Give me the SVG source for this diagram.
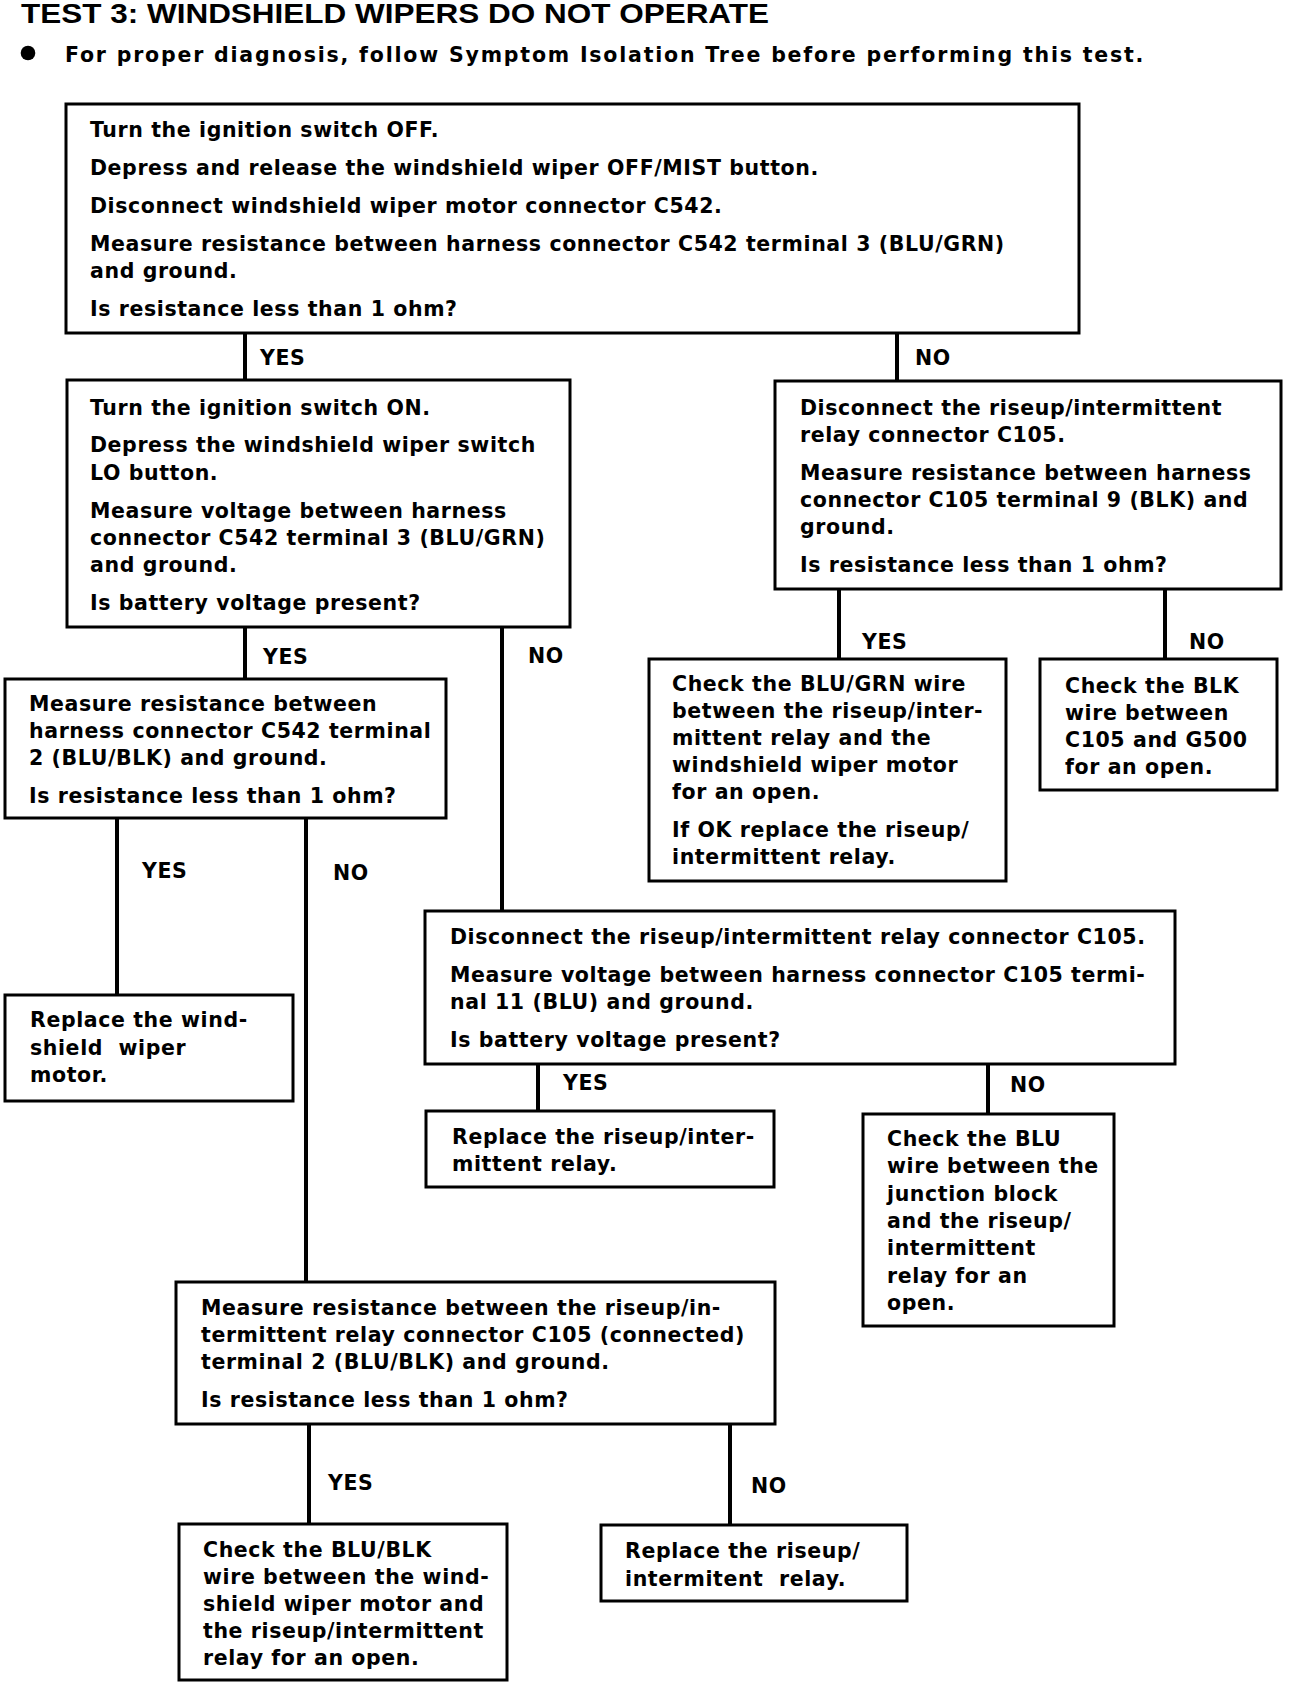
<svg xmlns="http://www.w3.org/2000/svg" width="1312" height="1684" viewBox="0 0 1312 1684">
<style>
.bg{fill:#fff}
.box{fill:#fff;stroke:#000;stroke-width:3}
.t{font-family:"DejaVu Sans","Liberation Sans",Arial,sans-serif;font-weight:bold;font-size:20.5px;letter-spacing:0.6px;fill:#000}
.title{font-family:"Liberation Sans",Arial,sans-serif;font-weight:bold;font-size:28px;fill:#000}
.lab{font-family:"DejaVu Sans","Liberation Sans",Arial,sans-serif;font-weight:bold;font-size:20.5px;letter-spacing:0.6px;fill:#000}
.c{stroke:#000;stroke-width:4;fill:none}
</style>
<rect class="bg" x="0" y="0" width="1312" height="1684"/>
<g id="header">
<text class="title" x="21" y="23" textLength="748" lengthAdjust="spacingAndGlyphs">TEST 3: WINDSHIELD WIPERS DO NOT OPERATE</text>
<circle cx="28" cy="53" r="7.3" fill="#000"/>
<text class="t" x="65" y="62" textLength="1079" lengthAdjust="spacing">For proper diagnosis, follow Symptom Isolation Tree before performing this test.</text>
</g>
<g id="connectors">
<line class="c" x1="245" y1="333" x2="245" y2="380"/>
<line class="c" x1="897" y1="333" x2="897" y2="381"/>
<line class="c" x1="245" y1="627" x2="245" y2="679"/>
<line class="c" x1="502" y1="627" x2="502" y2="911"/>
<line class="c" x1="839" y1="589" x2="839" y2="659"/>
<line class="c" x1="1165" y1="589" x2="1165" y2="659"/>
<line class="c" x1="117" y1="818" x2="117" y2="995"/>
<line class="c" x1="306" y1="818" x2="306" y2="1282"/>
<line class="c" x1="538" y1="1064" x2="538" y2="1111"/>
<line class="c" x1="988" y1="1064" x2="988" y2="1114"/>
<line class="c" x1="309" y1="1424" x2="309" y2="1524"/>
<line class="c" x1="730" y1="1424" x2="730" y2="1525"/>
<text class="lab" x="260" y="365">YES</text>
<text class="lab" x="915" y="365">NO</text>
<text class="lab" x="263" y="664">YES</text>
<text class="lab" x="528" y="663">NO</text>
<text class="lab" x="862" y="649">YES</text>
<text class="lab" x="1189" y="649">NO</text>
<text class="lab" x="142" y="878">YES</text>
<text class="lab" x="333" y="880">NO</text>
<text class="lab" x="563" y="1090">YES</text>
<text class="lab" x="1010" y="1092">NO</text>
<text class="lab" x="328" y="1490">YES</text>
<text class="lab" x="751" y="1493">NO</text>
</g>
<g id="n1">
<rect class="box" x="66" y="104" width="1013" height="229"/>
<text class="t" x="90" y="137">Turn the ignition switch OFF.</text>
<text class="t" x="90" y="175">Depress and release the windshield wiper OFF/MIST button.</text>
<text class="t" x="90" y="213">Disconnect windshield wiper motor connector C542.</text>
<text class="t" x="90" y="251">Measure resistance between harness connector C542 terminal 3 (BLU/GRN)</text>
<text class="t" x="90" y="278">and ground.</text>
<text class="t" x="90" y="316">Is resistance less than 1 ohm?</text>
</g>
<g id="n2">
<rect class="box" x="67" y="380" width="503" height="247"/>
<text class="t" x="90" y="415">Turn the ignition switch ON.</text>
<text class="t" x="90" y="452">Depress the windshield wiper switch</text>
<text class="t" x="90" y="480">LO button.</text>
<text class="t" x="90" y="518">Measure voltage between harness</text>
<text class="t" x="90" y="545">connector C542 terminal 3 (BLU/GRN)</text>
<text class="t" x="90" y="572">and ground.</text>
<text class="t" x="90" y="610">Is battery voltage present?</text>
</g>
<g id="n3">
<rect class="box" x="775" y="381" width="506" height="208"/>
<text class="t" x="800" y="415">Disconnect the riseup/intermittent</text>
<text class="t" x="800" y="442">relay connector C105.</text>
<text class="t" x="800" y="480">Measure resistance between harness</text>
<text class="t" x="800" y="507">connector C105 terminal 9 (BLK) and</text>
<text class="t" x="800" y="534">ground.</text>
<text class="t" x="800" y="572">Is resistance less than 1 ohm?</text>
</g>
<g id="n4">
<rect class="box" x="5" y="679" width="441" height="139"/>
<text class="t" x="29" y="711">Measure resistance between</text>
<text class="t" x="29" y="738">harness connector C542 terminal</text>
<text class="t" x="29" y="765">2 (BLU/BLK) and ground.</text>
<text class="t" x="29" y="803">Is resistance less than 1 ohm?</text>
</g>
<g id="n5">
<rect class="box" x="5" y="995" width="288" height="106"/>
<text class="t" x="30" y="1027">Replace the wind-</text>
<text class="t" x="30" y="1055" xml:space="preserve">shield  wiper</text>
<text class="t" x="30" y="1082">motor.</text>
</g>
<g id="n6">
<rect class="box" x="425" y="911" width="750" height="153"/>
<text class="t" x="450" y="944">Disconnect the riseup/intermittent relay connector C105.</text>
<text class="t" x="450" y="982">Measure voltage between harness connector C105 termi-</text>
<text class="t" x="450" y="1009">nal 11 (BLU) and ground.</text>
<text class="t" x="450" y="1047">Is battery voltage present?</text>
</g>
<g id="n7">
<rect class="box" x="426" y="1111" width="348" height="76"/>
<text class="t" x="452" y="1144">Replace the riseup/inter-</text>
<text class="t" x="452" y="1171">mittent relay.</text>
</g>
<g id="n8">
<rect class="box" x="863" y="1114" width="251" height="212"/>
<text class="t" x="887" y="1146">Check the BLU</text>
<text class="t" x="887" y="1173">wire between the</text>
<text class="t" x="887" y="1201">junction block</text>
<text class="t" x="887" y="1228">and the riseup/</text>
<text class="t" x="887" y="1255">intermittent</text>
<text class="t" x="887" y="1283">relay for an</text>
<text class="t" x="887" y="1310">open.</text>
</g>
<g id="n9">
<rect class="box" x="649" y="659" width="357" height="222"/>
<text class="t" x="672" y="691">Check the BLU/GRN wire</text>
<text class="t" x="672" y="718">between the riseup/inter-</text>
<text class="t" x="672" y="745">mittent relay and the</text>
<text class="t" x="672" y="772">windshield wiper motor</text>
<text class="t" x="672" y="799">for an open.</text>
<text class="t" x="672" y="837">If OK replace the riseup/</text>
<text class="t" x="672" y="864">intermittent relay.</text>
</g>
<g id="n10">
<rect class="box" x="1040" y="659" width="237" height="131"/>
<text class="t" x="1065" y="693">Check the BLK</text>
<text class="t" x="1065" y="720">wire between</text>
<text class="t" x="1065" y="747">C105 and G500</text>
<text class="t" x="1065" y="774">for an open.</text>
</g>
<g id="n11">
<rect class="box" x="176" y="1282" width="599" height="142"/>
<text class="t" x="201" y="1315">Measure resistance between the riseup/in-</text>
<text class="t" x="201" y="1342">termittent relay connector C105 (connected)</text>
<text class="t" x="201" y="1369">terminal 2 (BLU/BLK) and ground.</text>
<text class="t" x="201" y="1407">Is resistance less than 1 ohm?</text>
</g>
<g id="n12">
<rect class="box" x="179" y="1524" width="328" height="156"/>
<text class="t" x="203" y="1557">Check the BLU/BLK</text>
<text class="t" x="203" y="1584">wire between the wind-</text>
<text class="t" x="203" y="1611">shield wiper motor and</text>
<text class="t" x="203" y="1638">the riseup/intermittent</text>
<text class="t" x="203" y="1665">relay for an open.</text>
</g>
<g id="n13">
<rect class="box" x="601" y="1525" width="306" height="76"/>
<text class="t" x="625" y="1558">Replace the riseup/</text>
<text class="t" x="625" y="1586" xml:space="preserve">intermitent  relay.</text>
</g>
</svg>
